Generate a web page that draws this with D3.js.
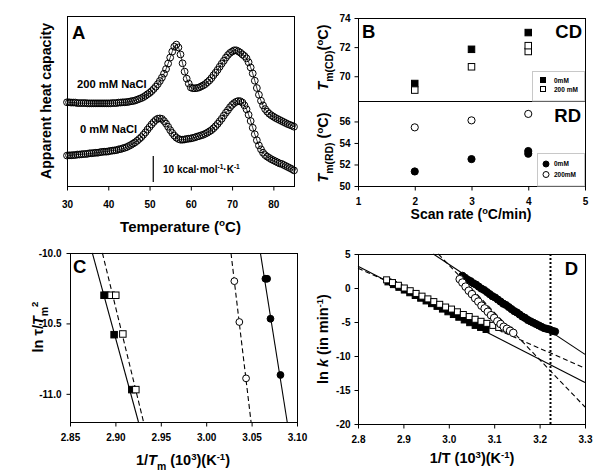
<!DOCTYPE html>
<html><head><meta charset="utf-8">
<script src="https://cdn.jsdelivr.net/npm/d3@7"></script>
<style>
body{margin:0;background:#fff;}
svg{display:block;font-family:"Liberation Sans",Arial,Helvetica,sans-serif;font-weight:bold;}
</style></head><body>
<svg id="c" width="601" height="476"></svg>
<script>
// ---------- Panel A : DSC traces (sampled every 0.5 °C from 30 °C) ----------
const dscStart = 30, dscStep = 0.5;
const cp0mM = [
 11.7,11.8,11.8,11.9,11.9,12.1,12.1,12.2,12.3,12.3,
 12.4,12.6,12.6,12.7,12.8,12.8,13.0,13.1,13.2,13.2,
 13.3,13.5,13.6,13.7,13.8,14.1,14.2,14.5,14.7,15.0,
 15.4,15.8,16.3,16.8,17.4,18.1,18.8,19.7,20.6,21.7,
 22.7,23.7,24.6,25.4,25.9,26.0,25.8,25.0,24.0,22.8,
 21.5,20.4,19.4,18.6,18.1,17.8,17.8,17.9,18.1,18.2,
 18.3,18.5,18.7,19.0,19.2,19.5,19.7,20.1,20.5,21.0,
 21.5,22.2,23.0,23.9,24.9,25.9,27.1,28.2,29.2,30.3,
 31.2,31.9,32.4,32.7,32.6,32.1,31.0,29.5,27.4,25.0,
 22.4,19.9,17.6,15.6,14.1,12.8,11.9,11.3,10.8,10.3,
 9.9,9.5,9.1,8.7,8.5,8.1,7.7,7.3,6.9,6.5,
 6.0];
const cp200mM = [
 32.2,32.2,32.1,32.1,32.1,31.9,31.9,31.9,31.9,31.9,
 31.8,31.8,31.8,31.8,31.8,31.8,31.8,31.8,31.8,31.8,
 31.8,31.8,31.9,31.9,31.9,32.1,32.1,32.2,32.2,32.3,
 32.4,32.6,32.7,32.9,33.2,33.5,33.8,34.2,34.7,35.3,
 35.8,36.5,37.3,38.2,39.2,40.4,41.7,43.2,45.0,47.1,
 49.4,51.7,53.6,54.4,53.3,50.6,47.2,44.0,41.3,39.4,
 37.9,37.6,37.6,37.7,37.9,38.3,38.7,39.2,39.9,40.6,
 41.5,42.6,43.6,44.7,45.9,47.1,48.2,49.4,50.4,51.2,
 51.7,52.2,52.2,51.8,51.3,50.6,50.0,49.1,47.6,45.6,
 43.3,40.5,37.7,35.1,32.8,31.0,29.6,28.6,27.8,27.2,
 26.7,26.2,25.8,25.4,25.0,24.6,24.2,23.8,23.5,23.2,
 22.8];
const dscLabels = ["200 mM NaCl", "0 mM NaCl"];
const ticksA = [30,40,50,60,70,80];
const scaleBarT = 50.9, scaleBarFrom = 1.5, scaleBarSize = 10;

// ---------- Panel B : Tm vs scan rate ----------
const cdRate0 = [2,3,4],   cd0   = [69.5,71.85,73.0];
const cdRate200 = [2,3,4,4], cd200 = [69.05,70.65,71.7,72.1];
const rdRate0 = [2,3,4,4], rd0   = [51.35,52.5,53.0,53.25];
const rdRate200 = [2,3,4], rd200 = [55.45,56.1,56.7];
const ticksBx = [1,2,3,4,5], ticksCD = [70,72,74], ticksRD = [50,52,54,56];
const legendCD = ["0mM","200 mM"], legendRD = ["0mM","200mM"];

// ---------- Panel C : ln(tau/Tm^2) vs 1/Tm ----------
const cSqFilledX = [2.8875,2.8895,2.8986,2.9181], cSqFilledY = [-10.30,-10.30,-10.58,-10.97];
const cSqOpenX   = [2.8953,2.9004,2.9082,2.9225], cSqOpenY   = [-10.30,-10.30,-10.575,-10.97];
const cCiOpenX   = [3.0310,3.0365,3.0439],        cCiOpenY   = [-10.20,-10.49,-10.89];
const cCiFilledX = [3.0652,3.0671,3.0708,3.0818], cCiFilledY = [-10.183,-10.183,-10.467,-10.866];
const cFitSolidSq = [[2.8746,-10.0],[2.9254,-11.2]];
const cFitDashSq  = [[2.8857,-10.0],[2.9310,-11.2]];
const cFitDashCi  = [[3.0273,-10.0],[3.0494,-11.2]];
const cFitSolidCi = [[3.0597,-10.0],[3.0892,-11.2]];
const ticksCx = [2.85,2.90,2.95,3.00,3.05,3.10], ticksCy = [-10.0,-10.5,-11.0];

// ---------- Panel D : ln k vs 1/T ----------
const dSqFilledX = [2.866,2.878,2.890,2.902,2.914,2.926,2.938,2.950,2.962,2.974,2.986,2.998,3.010,3.022,3.034,3.046,3.058,3.070,3.082];
const dSqFilledY = [0.9,0.5,0.1,-0.3,-0.7,-1.1,-1.5,-1.9,-2.3,-2.7,-3.1,-3.5,-3.9,-4.3,-4.7,-5.1,-5.5,-5.8,-6.1];
const dSqOpenX = [2.863,2.876,2.889,2.902,2.915,2.928,2.941,2.954,2.967,2.980,2.993,3.006,3.019,3.032,3.045,3.058,3.071,3.084,3.097,3.110,3.123,3.132];
const dSqOpenY = [1.2,0.8,0.4,0.0,-0.4,-0.8,-1.2,-1.6,-2.0,-2.4,-2.8,-3.1,-3.5,-3.9,-4.2,-4.6,-4.9,-5.2,-5.5,-5.8,-6.0,-6.2];
const dCiFilledX = [3.030,3.036,3.042,3.048,3.054,3.060,3.066,3.072,3.078,3.084,3.090,3.096,3.102,3.108,3.114,3.120,3.126,3.132,3.138,3.144,3.150,3.156,3.162,3.168,3.174,3.180,3.186,3.192,3.198,3.204,3.210,3.216,3.222,3.228,3.234];
const dCiFilledY = [1.8,1.5,1.2,1.0,0.7,0.5,0.2,-0.1,-0.3,-0.6,-0.9,-1.2,-1.4,-1.7,-2.0,-2.3,-2.5,-2.8,-3.1,-3.4,-3.6,-3.9,-4.2,-4.4,-4.7,-4.9,-5.1,-5.3,-5.5,-5.7,-5.9,-6.0,-6.1,-6.3,-6.4];
const dCiOpenX = [3.024,3.030,3.037,3.044,3.051,3.058,3.065,3.072,3.079,3.086,3.093,3.100,3.107,3.114,3.121,3.128,3.135,3.142];
const dCiOpenY = [1.3,0.8,0.2,-0.4,-0.9,-1.5,-2.0,-2.6,-3.0,-3.5,-4.0,-4.4,-4.9,-5.3,-5.7,-6.0,-6.3,-6.6];
const dFitSolidSq = [[2.8,3.2],[3.3,-13.9]];
const dFitDashSq  = [[2.8,2.9],[3.3,-11.8]];
const dFitSolidCi = [[2.966,5],[3.3,-9.76]];
const dFitDashCi  = [[2.977,5],[3.3,-17.5]];
const dRefLine = 3.224;
const ticksDx = [2.8,2.9,3.0,3.1,3.2,3.3], ticksDy = [5,0,-5,-10,-15,-20];

// =====================================================================
const svg = d3.select("#c");
const FONT = "'Liberation Sans',Arial,Helvetica,sans-serif";
const fmt = n => d => d.toFixed(n);   // plain hyphen-minus like the reference

function rich(sel, parts, size) {
  const t = sel.append("text").attr("font-size", size).attr("font-weight","bold");
  let cur = 0;
  parts.forEach(p => {
    if (typeof p === "string") p = {t:p};
    const sp = t.append("tspan").text(p.t);
    let target = 0;
    if (p.sub) { sp.attr("font-size", size*0.72); target = size*0.32; }
    else if (p.sup) { sp.attr("font-size", size*0.66); target = -size*0.38; }
    if (p.it) sp.attr("font-style","italic");
    const dy = target - cur;
    if (dy !== 0) sp.attr("dy", dy);
    cur = target;
  });
  return t;
}
function frame(x0,y0,x1,y1){
  svg.append("rect").attr("x",x0+0.5).attr("y",y0+0.5).attr("width",x1-x0).attr("height",y1-y0)
    .attr("fill","none").attr("stroke","#000").attr("stroke-width",1);
}
function styleAxis(g){
  g.select(".domain").remove();
  g.attr("font-family",FONT).attr("font-size",10).attr("font-weight","bold");
  g.selectAll("line").attr("stroke","#000");
  g.selectAll("text").attr("fill","#000");
}
function squares(g, xs, ys, x, y, s, fill){
  g.selectAll(null).data(xs).join("rect")
    .attr("x",(d,i)=>x(d)-s/2).attr("y",(d,i)=>y(ys[i])-s/2).attr("width",s).attr("height",s)
    .attr("fill",fill).attr("stroke","#000").attr("stroke-width",1);
}
function circles(g, xs, ys, x, y, r, fill){
  g.selectAll(null).data(xs).join("circle")
    .attr("cx",d=>x(d)).attr("cy",(d,i)=>y(ys[i])).attr("r",r)
    .attr("fill",fill).attr("stroke","#000").attr("stroke-width",1);
}
function fitLine(g, pts, x, y, dashed){
  g.append("line").attr("x1",x(pts[0][0])).attr("y1",y(pts[0][1]))
    .attr("x2",x(pts[1][0])).attr("y2",y(pts[1][1]))
    .attr("stroke","#000").attr("stroke-width",1.1)
    .attr("stroke-dasharray", dashed ? "5,3" : null);
}

// ---------------- Panel A ----------------
{
  const L=67,R=294,T=16,B=186;
  const x = d3.scaleLinear([30,85],[L,R]);
  const y = d3.scaleLinear([0,65.4],[B,T]);
  const g = svg.append("g");
  [cp200mM, cp0mM].forEach(arr=>{
    const pts = arr.map((v,i)=>[dscStart+i*dscStep, v]);
    g.append("g").selectAll("circle").data(pts).join("circle")
      .attr("cx",d=>x(d[0])).attr("cy",d=>y(d[1])).attr("r",3.4)
      .attr("fill","none").attr("stroke","#000").attr("stroke-width",1);
    g.append("path").datum(pts).attr("fill","none").attr("stroke","#000").attr("stroke-width",0.8)
      .attr("d", d3.line().x(d=>x(d[0])).y(d=>y(d[1])).curve(d3.curveMonotoneX));
  });
  frame(L,T,R,B);
  svg.append("g").attr("transform",`translate(0,${B+0.5})`)
    .call(d3.axisBottom(x).tickValues(ticksA).tickSize(4).tickPadding(10).tickFormat(fmt(0))).call(styleAxis);
  svg.append("text").attr("x",72).attr("y",38.5).attr("font-size",18.5).text("A");
  svg.append("text").attr("x",77).attr("y",87.5).attr("font-size",11.2).text(dscLabels[0]);
  svg.append("text").attr("x",80).attr("y",132.8).attr("font-size",11.2).text(dscLabels[1]);
  svg.append("line").attr("x1",x(scaleBarT)).attr("x2",x(scaleBarT))
    .attr("y1",y(scaleBarFrom)).attr("y2",y(scaleBarFrom+scaleBarSize)).attr("stroke","#000").attr("stroke-width",1.2);
  rich(svg.append("g").attr("transform","translate(163,173)"),
    ["10 kcal·mol",{t:"-1",sup:true},"·K",{t:"-1",sup:true}], 10);
  rich(svg.append("g").attr("transform","translate(180.5,231.5)"),
    ["Temperature (",{t:"o",sup:true},"C)"], 15).attr("text-anchor","middle");
  rich(svg.append("g").attr("transform","translate(51,101) rotate(-90)"),
    ["Apparent heat capacity"], 14.2).attr("text-anchor","middle");
}

// ---------------- Panel B ----------------
{
  const L=358,R=585,T=18,M=101,B=186;
  const x = d3.scaleLinear([1,5],[L,R]);
  const yCD = d3.scaleLinear([68.3,74],[M,T]);
  const yRD = d3.scaleLinear([50,57.9],[B,M]);
  const g = svg.append("g");
  squares(g, cdRate0, cd0, x, yCD, 6.5, "#000");
  squares(g, cdRate200, cd200, x, yCD, 6.5, "#fff");
  circles(g, rdRate0, rd0, x, yRD, 3.6, "#000");
  circles(g, rdRate200, rd200, x, yRD, 3.6, "#fff");
  frame(L,T,R,B);
  svg.append("line").attr("x1",L).attr("x2",R+1).attr("y1",M+0.5).attr("y2",M+0.5).attr("stroke","#000").attr("stroke-width",1.2);
  svg.append("g").attr("transform",`translate(0,${B+0.5})`)
    .call(d3.axisBottom(x).tickValues(ticksBx).tickSize(4).tickPadding(7).tickFormat(fmt(0))).call(styleAxis);
  svg.append("g").attr("transform",`translate(${L+0.5},0)`)
    .call(d3.axisLeft(yCD).tickValues(ticksCD).tickSize(4).tickPadding(4).tickFormat(fmt(0))).call(styleAxis);
  svg.append("g").attr("transform",`translate(${L+0.5},0)`)
    .call(d3.axisLeft(yRD).tickValues(ticksRD).tickSize(4).tickPadding(4).tickFormat(fmt(0))).call(styleAxis);
  svg.append("text").attr("x",362).attr("y",37.5).attr("font-size",18.5).text("B");
  svg.append("text").attr("x",582).attr("y",38.3).attr("font-size",18.5).attr("text-anchor","end").text("CD");
  svg.append("text").attr("x",581).attr("y",121.7).attr("font-size",18.5).attr("text-anchor","end").text("RD");
  // legends
  svg.append("rect").attr("x",532.5).attr("y",71.5).attr("width",52).attr("height",29.5)
    .attr("fill","#fff").attr("stroke","#c8c8c8").attr("stroke-width",1);
  const lg = svg.append("g");
  lg.append("rect").attr("x",540.5).attr("y",77.5).attr("width",5).attr("height",5).attr("fill","#000").attr("stroke","#000");
  lg.append("rect").attr("x",540.5).attr("y",86.5).attr("width",5).attr("height",5).attr("fill","#fff").attr("stroke","#000");
  lg.append("text").attr("x",554).attr("y",82.8).attr("font-size",6.5).text(legendCD[0]);
  lg.append("text").attr("x",554).attr("y",91.8).attr("font-size",6.5).text(legendCD[1]);
  svg.append("rect").attr("x",537.5).attr("y",153.5).attr("width",47).attr("height",32.5)
    .attr("fill","#fff").attr("stroke","#c8c8c8").attr("stroke-width",1);
  lg.append("circle").attr("cx",546).attr("cy",164).attr("r",3).attr("fill","#000").attr("stroke","#000");
  lg.append("circle").attr("cx",546).attr("cy",174.5).attr("r",3).attr("fill","#fff").attr("stroke","#000");
  lg.append("text").attr("x",554).attr("y",166.3).attr("font-size",6.5).text(legendRD[0]);
  lg.append("text").attr("x",554).attr("y",176.8).attr("font-size",6.5).text(legendRD[1]);
  lg.raise();
  rich(svg.append("g").attr("transform","translate(471,219)"),
    ["Scan rate (",{t:"o",sup:true},"C/min)"], 14).attr("text-anchor","middle");
  rich(svg.append("g").attr("transform","translate(328,57.5) rotate(-90)"),
    [{t:"T",it:true},{t:"m(CD)",sub:true},"(",{t:"o",sup:true},"C)"], 14.5).attr("text-anchor","middle");
  rich(svg.append("g").attr("transform","translate(328,147.5) rotate(-90)"),
    [{t:"T",it:true},{t:"m(RD)",sub:true}," (",{t:"o",sup:true},"C)"], 14.5).attr("text-anchor","middle");
}

// ---------------- Panel C ----------------
{
  const L=70,R=297,T=253,B=422;
  const x = d3.scaleLinear([2.85,3.10],[L,R]);
  const y = d3.scaleLinear([-11.2,-10.0],[B,T]);
  const g = svg.append("g");
  fitLine(g, cFitSolidSq, x, y, false);
  fitLine(g, cFitDashSq, x, y, true);
  fitLine(g, cFitDashCi, x, y, true);
  fitLine(g, cFitSolidCi, x, y, false);
  squares(g, cSqFilledX, cSqFilledY, x, y, 6.5, "#000");
  squares(g, cSqOpenX, cSqOpenY, x, y, 6.5, "#fff");
  circles(g, cCiOpenX, cCiOpenY, x, y, 3.4, "#fff");
  circles(g, cCiFilledX, cCiFilledY, x, y, 3.4, "#000");
  frame(L,T,R,B);
  svg.append("g").attr("transform",`translate(0,${B+0.5})`)
    .call(d3.axisBottom(x).tickValues(ticksCx).tickSize(4).tickPadding(7).tickFormat(fmt(2))).call(styleAxis);
  svg.append("g").attr("transform",`translate(${L+0.5},0)`)
    .call(d3.axisLeft(y).tickValues(ticksCy).tickSize(4).tickPadding(5).tickFormat(fmt(1))).call(styleAxis);
  svg.append("text").attr("x",73).attr("y",273.3).attr("font-size",18.5).text("C");
  rich(svg.append("g").attr("transform","translate(183,465)"),
    ["1/",{t:"T",it:true},{t:"m",sub:true}," (10",{t:"3",sup:true},")(K",{t:"-1",sup:true},")"], 14.5).attr("text-anchor","middle");
  rich(svg.append("g").attr("transform","translate(43,327) rotate(-90)"),
    ["ln τ/",{t:"T",it:true},{t:"m",sub:true},{t:"2",sup:true}], 14.5).attr("text-anchor","middle");
}

// ---------------- Panel D ----------------
{
  const L=358,R=585,T=254,B=424;
  const x = d3.scaleLinear([2.8,3.3],[L,R]);
  const y = d3.scaleLinear([-20,5],[B,T]);
  const g = svg.append("g");
  fitLine(g, dFitSolidSq, x, y, false);
  fitLine(g, dFitDashSq, x, y, true);
  fitLine(g, dFitSolidCi, x, y, false);
  fitLine(g, dFitDashCi, x, y, true);
  squares(g, dSqFilledX, dSqFilledY, x, y, 6, "#000");
  squares(g, dSqOpenX, dSqOpenY, x, y, 6, "#fff");
  circles(g, dCiFilledX, dCiFilledY, x, y, 3.6, "#000");
  circles(g, dCiOpenX, dCiOpenY, x, y, 3.8, "#fff");
  g.append("line").attr("x1",x(dRefLine)).attr("x2",x(dRefLine)).attr("y1",T).attr("y2",B)
    .attr("stroke","#000").attr("stroke-width",2).attr("stroke-dasharray","2,2");
  frame(L,T,R,B);
  svg.append("g").attr("transform",`translate(0,${B+0.5})`)
    .call(d3.axisBottom(x).tickValues(ticksDx).tickSize(4).tickPadding(7).tickFormat(fmt(1))).call(styleAxis);
  svg.append("g").attr("transform",`translate(${L+0.5},0)`)
    .call(d3.axisLeft(y).tickValues(ticksDy).tickSize(4).tickPadding(4).tickFormat(fmt(0))).call(styleAxis);
  svg.append("text").attr("x",578).attr("y",275).attr("font-size",18.5).attr("text-anchor","end").text("D");
  rich(svg.append("g").attr("transform","translate(472,463)"),
    ["1/T (10",{t:"3",sup:true},")(K",{t:"-1",sup:true},")"], 14.5).attr("text-anchor","middle");
  rich(svg.append("g").attr("transform","translate(328,339) rotate(-90)"),
    ["ln ",{t:"k",it:true}," (in min",{t:"-1",sup:true},")"], 14.5).attr("text-anchor","middle");
}
</script>
</body></html>
